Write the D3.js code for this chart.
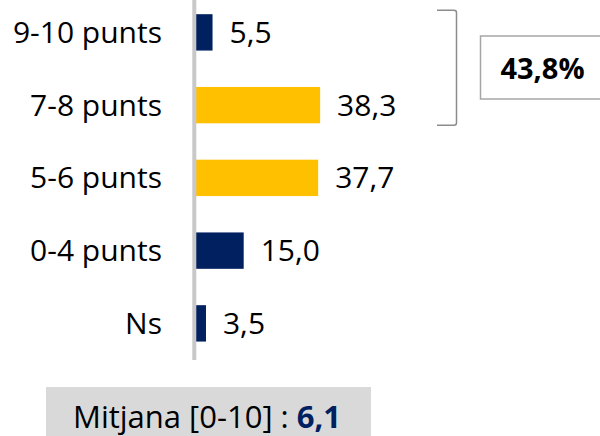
<head>
  <script src="https://d3js.org/d3.v7.min.js"></script>
</head>
<style>
  body { margin: 0; background: #fff; }
  text { font-family: "Open Sans", sans-serif; }
</style>
<body>
  <svg id="chart"></svg>
</body>
<script>
  var w = 600;
  var h = 436;

  // data
  var categories = ["9-10 punts", "7-8 punts", "5-6 punts", "0-4 punts", "Ns"];
  var values = [5.5, 38.3, 37.7, 15.0, 3.5];
  var barColors = ["#002060", "#FFC000", "#FFC000", "#002060", "#002060"];
  var bracketed = ["9-10 punts", "7-8 punts"];
  var meanLabel = "Mitjana [0-10] : ";
  var meanValue = 6.1;

  var fmt = function(v){ return v.toFixed(1).replace(".", ","); };

  var svg = d3.select("svg#chart")
      .attr("width", w)
      .attr("height", h);

  var x = d3.scaleLinear()
      .domain([0, 10])
      .range([194.5, 227.3]);

  var y = d3.scaleBand()
      .domain(categories)
      .range([-4, 359.75])
      .paddingInner(0.5)
      .paddingOuter(0.25);

  var data = categories.map(function(c, i){ return {cat: c, val: values[i], color: barColors[i]}; });

  // bars
  svg.selectAll("rect.bar")
      .data(data)
      .enter().append("rect")
      .attr("class", "bar")
      .attr("x", x(0))
      .attr("y", function(d){ return y(d.cat); })
      .attr("width", function(d){ return x(d.val) - x(0); })
      .attr("height", y.bandwidth())
      .attr("fill", function(d){ return d.color; });

  // vertical axis line
  svg.append("line")
      .attr("x1", x(0) - 0.2).attr("x2", x(0) - 0.2)
      .attr("y1", 0).attr("y2", 360)
      .attr("stroke", "#c8c8c8")
      .attr("stroke-width", 4);

  // category labels
  svg.selectAll("text.cat")
      .data(data)
      .enter().append("text")
      .attr("class", "cat")
      .attr("x", 162)
      .attr("y", function(d){ return y(d.cat) + y.bandwidth()/2 + 10.5; })
      .attr("text-anchor", "end")
      .attr("font-size", 30)
      .attr("fill", "#000")
      .text(function(d){ return d.cat; });

  // value labels
  svg.selectAll("text.val")
      .data(data)
      .enter().append("text")
      .attr("class", "val")
      .attr("x", function(d){ return x(d.val) + 17; })
      .attr("y", function(d){ return y(d.cat) + y.bandwidth()/2 + 10.5; })
      .attr("font-size", 30)
      .attr("fill", "#000")
      .text(function(d){ return fmt(d.val); });

  // bracket around the top two bars
  var bTop = y(bracketed[0]) - 4;
  var bBot = y(bracketed[1]) + y.bandwidth() + 2;
  svg.append("path")
      .attr("d", "M437," + bTop + " H454 Q456.5," + bTop + " 456.5," + (bTop + 2.5) +
                 " V" + (bBot - 2.5) + " Q456.5," + bBot + " 454," + bBot + " H437")
      .attr("fill", "none")
      .attr("stroke", "#8c8c8c")
      .attr("stroke-width", 1.5);

  var total = d3.sum(data.filter(function(d){ return bracketed.indexOf(d.cat) >= 0; }), function(d){ return d.val; });

  svg.append("rect")
      .attr("x", 480.5).attr("y", 36)
      .attr("width", 140).attr("height", 63)
      .attr("fill", "#fff")
      .attr("stroke", "#a6a6a6")
      .attr("stroke-width", 1.5);

  svg.append("text")
      .attr("x", 542.5)
      .attr("y", 79)
      .attr("text-anchor", "middle")
      .attr("font-size", 29)
      .attr("font-weight", "bold")
      .attr("fill", "#000")
      .text(fmt(total) + "%");

  // mean box
  svg.append("rect")
      .attr("x", 46).attr("y", 387)
      .attr("width", 325).attr("height", 60)
      .attr("fill", "#d9d9d9");

  var mt = svg.append("text")
      .attr("x", 73)
      .attr("y", 428)
      .attr("font-size", 31)
      .attr("fill", "#000");
  mt.append("tspan").text(meanLabel);
  mt.append("tspan")
      .attr("font-weight", "bold")
      .attr("fill", "#002060")
      .text(fmt(meanValue));
</script>
